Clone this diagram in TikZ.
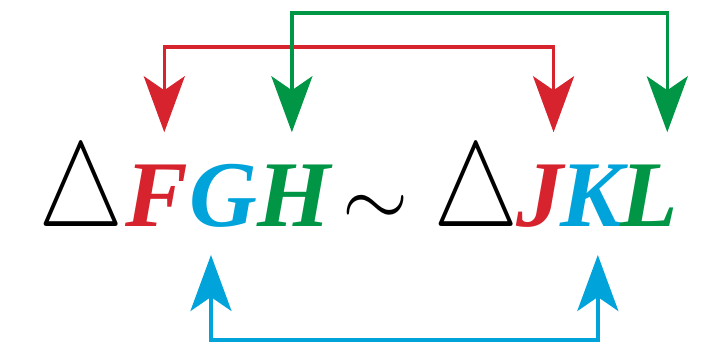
\RequirePackage{fix-cm}
\documentclass[tikz,border=0pt]{standalone}
\usepackage{graphicx}
\usepackage{fontspec}
\setmainfont{Liberation Serif}
\usetikzlibrary{arrows.meta}
\definecolor{cred}{RGB}{215,35,45}
\definecolor{ccyan}{RGB}{0,163,218}
\definecolor{cgreen}{RGB}{0,150,70}
\newcommand{\tri}{\scalebox{1}[1.25]{$\triangle$}}
\begin{document}
\begin{tikzpicture}[x=1pt, y=1pt,
	letter/.style={inner sep=0pt, anchor=base west, font=\fontsize{94}{94}\selectfont\bfseries\itshape},
	sym/.style={inner sep=0pt, anchor=base west, font=\fontsize{85}{85}\selectfont},
	bigsym/.style={sym, font=\fontsize{96}{96}\selectfont},
	link/.style={line width=3.5pt, {Stealth[length=56pt, width=41pt, inset=14pt]}-{Stealth[length=56pt, width=41pt, inset=14pt]}}]
	\useasboundingbox (0,0) rectangle (714,353);
	% the two similar triangles
	\node[bigsym] (T1) at (38,126) {\tri};
	\node[letter, cred] (F) at ([xshift=2pt]T1.base east) {F};
	\node[letter, ccyan] (G) at (F.base east) {G};
	\node[letter, cgreen] (H) at (G.base east) {H};
	\node[sym] (sim) at ([xshift=12pt]H.base east) {$\sim$};
	\node[bigsym] (T2) at ([xshift=24pt]sim.base east) {\tri};
	\node[letter, cred] (J) at ([xshift=-3pt]T2.base east) {J};
	\node[letter, ccyan] (K) at ([xshift=-3pt]J.base east) {K};
	\node[letter, cgreen] (L) at ([xshift=-3pt]K.base east) {L};
	% arrow ends
	\coordinate (Fa) at ([xshift=7pt, yshift=33pt]F.north);
	\coordinate (Ja) at ([xshift=14pt, yshift=33pt]J.north);
	\coordinate (Ha) at ([xshift=-2pt, yshift=33pt]H.north);
	\coordinate (La) at ([xshift=18pt, yshift=33pt]L.north);
	\coordinate (Ga) at ([xshift=-12pt, yshift=-28pt]G.base);
	\coordinate (Ka) at ([xshift=6pt, yshift=-28pt]K.base);
	\draw[link, cred] (Fa) -- ++(0,85) -| (Ja);
	\draw[link, cgreen] (Ha) -- ++(0,119) -| (La);
	\draw[link, ccyan] (Ga) -- ++(0,-85) -| (Ka);
\end{tikzpicture}
\end{document}
